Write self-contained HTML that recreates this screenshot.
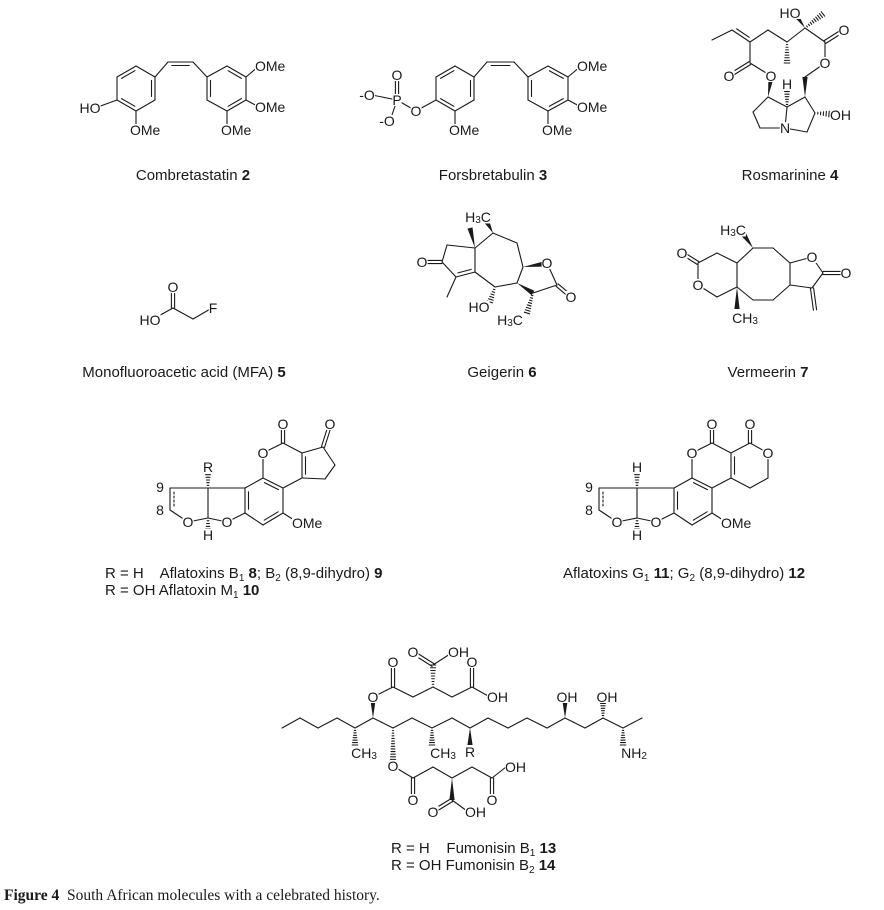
<!DOCTYPE html>
<html><head><meta charset="utf-8">
<style>
html,body{margin:0;padding:0;background:#fff;}
svg{display:block;}
text{font-family:"Liberation Sans",sans-serif;fill:#1a1a1a;white-space:pre;}
.a{font-size:14px;text-anchor:middle;dominant-baseline:central;}
.s{font-size:14px;text-anchor:start;dominant-baseline:central;}
.c{font-size:15px;}
.cap{font-family:"Liberation Serif",serif;font-size:15.5px;}
</style></head><body>
<svg id="sv" width="884" height="910" viewBox="0 0 884 910" xmlns="http://www.w3.org/2000/svg" xml:space="preserve">
<g id="bonds" stroke="#1a1a1a" stroke-width="1.1" fill="none" stroke-linecap="round"></g>
<g id="wedges" fill="#1a1a1a"></g>
<g id="masks" fill="#fff"></g>
<g id="labels">
<text class="a" x="90" y="108">HO</text>
<text class="s" x="221" y="130">OMe</text>
<text class="s" x="130" y="130">OMe</text>
<text class="s" x="255" y="66">OMe</text>
<text class="s" x="255" y="107">OMe</text>
<text class="a" x="416" y="111">O</text>
<text class="a" x="397" y="100">P</text>
<text class="a" x="397" y="75">O</text>
<text class="a" x="367" y="95">-O</text>
<text class="a" x="387" y="121">-O</text>
<text class="s" x="449" y="130">OMe</text>
<text class="s" x="542" y="130">OMe</text>
<text class="s" x="577" y="66">OMe</text>
<text class="s" x="577" y="107">OMe</text>
<text class="a" x="790" y="13">HO</text>
<text class="a" x="844" y="30">O</text>
<text class="a" x="825" y="63">O</text>
<text class="a" x="729" y="76">O</text>
<text class="a" x="771" y="76">O</text>
<text class="a" x="787" y="84">H</text>
<text class="a" x="785" y="128">N</text>
<text class="s" x="830" y="115">OH</text>
<text class="a" x="173" y="287">O</text>
<text class="a" x="150" y="320">HO</text>
<text class="a" x="213" y="308">F</text>
<text class="a" x="478" y="217">H<tspan font-size="10" dy="3">3</tspan><tspan dy="-3">C</tspan></text>
<text class="a" x="422" y="262">O</text>
<text class="a" x="547" y="263">O</text>
<text class="a" x="571" y="297">O</text>
<text class="a" x="479" y="307">HO</text>
<text class="a" x="510" y="320">H<tspan font-size="10" dy="3">3</tspan><tspan dy="-3">C</tspan></text>
<text class="a" x="733" y="230">H<tspan font-size="10" dy="3">3</tspan><tspan dy="-3">C</tspan></text>
<text class="a" x="682" y="253">O</text>
<text class="a" x="698" y="285">O</text>
<text class="a" x="812" y="257">O</text>
<text class="a" x="846" y="273">O</text>
<text class="a" x="745" y="318">CH<tspan font-size="10" dy="3">3</tspan></text>
<text class="a" x="283" y="424">O</text>
<text class="a" x="330" y="424">O</text>
<text class="a" x="263" y="453">O</text>
<text class="a" x="208" y="467">R</text>
<text class="a" x="160" y="487">9</text>
<text class="a" x="160" y="510">8</text>
<text class="a" x="188" y="522">O</text>
<text class="a" x="227" y="522">O</text>
<text class="a" x="208" y="535">H</text>
<text class="s" x="292" y="523">OMe</text>
<text class="a" x="712" y="424">O</text>
<text class="a" x="750" y="424">O</text>
<text class="a" x="692" y="453">O</text>
<text class="a" x="768" y="453">O</text>
<text class="a" x="637" y="467">H</text>
<text class="a" x="589" y="487">9</text>
<text class="a" x="589" y="510">8</text>
<text class="a" x="617" y="522">O</text>
<text class="a" x="656" y="522">O</text>
<text class="a" x="637" y="535">H</text>
<text class="s" x="721" y="523">OMe</text>
<text class="a" x="373" y="697">O</text>
<text class="a" x="393" y="662">O</text>
<text class="a" x="413" y="652">O</text>
<text class="s" x="448" y="652">OH</text>
<text class="a" x="472" y="662">O</text>
<text class="s" x="487" y="697">OH</text>
<text class="a" x="393" y="766">O</text>
<text class="a" x="413" y="800">O</text>
<text class="a" x="433" y="812">O</text>
<text class="s" x="465" y="812">OH</text>
<text class="a" x="492" y="800">O</text>
<text class="s" x="505" y="767">OH</text>
<text class="a" x="364" y="753">CH<tspan font-size="10" dy="3">3</tspan></text>
<text class="a" x="443" y="753">CH<tspan font-size="10" dy="3">3</tspan></text>
<text class="a" x="470" y="752">R</text>
<text class="a" x="567" y="697">OH</text>
<text class="a" x="607" y="697">OH</text>
<text class="a" x="634" y="753">NH<tspan font-size="10" dy="3">2</tspan></text>
</g>
<text class="c" x="193" y="180" text-anchor="middle">Combretastatin <tspan font-weight="bold">2</tspan></text>
<text class="c" x="493" y="180" text-anchor="middle">Forsbretabulin <tspan font-weight="bold">3</tspan></text>
<text class="c" x="790" y="180" text-anchor="middle">Rosmarinine <tspan font-weight="bold">4</tspan></text>
<text class="c" x="184" y="377" text-anchor="middle">Monofluoroacetic acid (MFA) <tspan font-weight="bold">5</tspan></text>
<text class="c" x="502" y="377" text-anchor="middle">Geigerin <tspan font-weight="bold">6</tspan></text>
<text class="c" x="768" y="377" text-anchor="middle">Vermeerin <tspan font-weight="bold">7</tspan></text>
<text class="c" x="105" y="578">R = H    Aflatoxins B<tspan font-size="10" dy="3">1</tspan><tspan dy="-3"> </tspan><tspan font-weight="bold">8</tspan>; B<tspan font-size="10" dy="3">2</tspan><tspan dy="-3"> (8,9-dihydro) </tspan><tspan font-weight="bold">9</tspan></text>
<text class="c" x="105" y="595">R = OH Aflatoxin M<tspan font-size="10" dy="3">1</tspan><tspan dy="-3"> </tspan><tspan font-weight="bold">10</tspan></text>
<text class="c" x="563" y="578">Aflatoxins G<tspan font-size="10" dy="3">1</tspan><tspan dy="-3"> </tspan><tspan font-weight="bold">11</tspan>; G<tspan font-size="10" dy="3">2</tspan><tspan dy="-3"> (8,9-dihydro) </tspan><tspan font-weight="bold">12</tspan></text>
<text class="c" x="391" y="853">R = H    Fumonisin B<tspan font-size="10" dy="3">1</tspan><tspan dy="-3"> </tspan><tspan font-weight="bold">13</tspan></text>
<text class="c" x="391" y="870">R = OH Fumonisin B<tspan font-size="10" dy="3">2</tspan><tspan dy="-3"> </tspan><tspan font-weight="bold">14</tspan></text>
<text class="cap" x="4" y="900"><tspan font-weight="bold">Figure 4</tspan>  South African molecules with a celebrated history.</text>
</svg>
<script>
(function(){
var NS="http://www.w3.org/2000/svg";
var bg=document.getElementById("bonds"), wg=document.getElementById("wedges");
function L(x1,y1,x2,y2,dash){var e=document.createElementNS(NS,"line");e.setAttribute("x1",x1);e.setAttribute("y1",y1);e.setAttribute("x2",x2);e.setAttribute("y2",y2);if(dash)e.setAttribute("stroke-dasharray","2,2");bg.appendChild(e);}
function S(a){for(var i=0;i<a.length;i++)L.apply(null,a[i]);}
function D2(x1,y1,x2,y2){var dx=x2-x1,dy=y2-y1,l=Math.hypot(dx,dy),nx=-dy/l*1.6,ny=dx/l*1.6;L(x1+nx,y1+ny,x2+nx,y2+ny);L(x1-nx,y1-ny,x2-nx,y2-ny);}
function Di(x1,y1,x2,y2,cx,cy,dash){L(x1,y1,x2,y2);var dx=x2-x1,dy=y2-y1,l=Math.hypot(dx,dy),nx=-dy/l,ny=dx/l;var mx=(x1+x2)/2,my=(y1+y2)/2;if((cx-mx)*nx+(cy-my)*ny<0){nx=-nx;ny=-ny;}var o=3.5,s=0.15;L(x1+dx*s+nx*o,y1+dy*s+ny*o,x2-dx*s+nx*o,y2-dy*s+ny*o,dash);}
function ring(p,inner){var cx=0,cy=0;p.forEach(function(q){cx+=q[0];cy+=q[1];});cx/=p.length;cy/=p.length;for(var i=0;i<p.length;i++){var a=p[i],b=p[(i+1)%p.length];if(inner.indexOf(i)>=0)Di(a[0],a[1],b[0],b[1],cx,cy);else L(a[0],a[1],b[0],b[1]);}}
function W(x1,y1,x2,y2){var dx=x2-x1,dy=y2-y1,l=Math.hypot(dx,dy),nx=-dy/l*2.6,ny=dx/l*2.6;var e=document.createElementNS(NS,"polygon");e.setAttribute("points",x1+","+y1+" "+(x2+nx)+","+(y2+ny)+" "+(x2-nx)+","+(y2-ny));wg.appendChild(e);}
function H(x1,y1,x2,y2){var dx=x2-x1,dy=y2-y1,l=Math.hypot(dx,dy),nx=-dy/l,ny=dx/l;var n=Math.max(4,Math.round(l/2.6));for(var i=1;i<=n;i++){var t=i/n,w=0.4+2.4*t;L(x1+dx*t+nx*w,y1+dy*t+ny*w,x1+dx*t-nx*w,y1+dy*t-ny*w);}}
ring([[136,66],[155,77],[155,100],[136,111],[117,100],[117,77]],[5,1,3]);
S([[117,100,95,108],[136,111,136,124],[155,77,168,62],[193,62,207,77],[246,77,259,66],[246,100,259,107],[227,111,227,124]]);
Di(168,62,193,62,180,75);
ring([[227,66],[246,77],[246,100],[227,111],[207,100],[207,77]],[0,2,4]);
ring([[455,66],[474,77],[474,100],[455,111],[436,100],[436,77]],[5,1,3]);
S([[474,77,487,62],[514,62,528,77],[568,77,581,66],[568,100,581,107],[548,111,548,124],[455,111,455,124],[436,100,416,111],[416,111,397,100],[397,100,372,95],[397,100,390,121]]);
Di(487,62,514,62,500,75);
ring([[548,66],[568,77],[568,100],[548,111],[528,100],[528,77]],[0,2,4]);
D2(397,100,397,76);
D2(173,308,173,287);S([[173,308,153,319],[173,308,193,319],[193,319,212,308]]);
W(805,28,796,15);S([[805,28,825,42],[825,42,825,63],[825,63,805,77],[805,28,787,42],[787,42,768,30],[768,30,750,42],[732,30,712,40],[750,42,750,63],[750,63,771,76],[768,97,753,112],[753,112,760,128],[760,128,785,128],[785,128,787,107],[787,107,768,97],[787,107,805,97],[805,97,815,113],[815,113,807,132],[807,132,785,128]]);
D2(825,42,844,30);W(805,97,805,77);H(787,42,787,63);Di(750,42,732,30,745,20);D2(750,63,729,76);W(768,97,771,78);H(787,107,787,89);H(815,113,829,114);H(805,28,823,14);
S([[475,248,493,233],[493,233,517,243],[517,243,523,267],[523,267,517,283],[517,283,495,287],[495,287,475,272],[475,248,475,272],[475,248,447,245],[447,245,442,262],[442,262,456,277],[456,277,447,297],[547,263,557,285],[557,285,533,293]]);
Di(475,272,456,277,455,262);D2(442,262,422,262);W(493,233,487,222);W(475,248,470,228);W(523,267,544,264);D2(557,285,570,296);W(517,283,533,293);H(533,293,527,313);H(495,287,490,302);
ring([[753,248],[773,248],[790,263],[790,285],[773,300],[753,300],[737,287],[737,263]],[]);
S([[737,263,717,253],[717,253,698,263],[698,263,698,285],[698,285,717,297],[717,297,737,287],[790,263,812,257],[812,257,823,273],[823,273,812,288],[812,288,790,285]]);
D2(698,263,682,253);D2(823,273,846,273);D2(812,288,815,310);W(753,248,744,235);W(737,287,737,309);
function afla(dx,G){
 var O1=[263+dx,453],Cc=[283+dx,443],Ca=[302+dx,453],Cb=[302+dx,478],Cd=[283+dx,488],Ce=[263+dx,478];
 S([[O1[0],O1[1],Cc[0],Cc[1]],[Cc[0],Cc[1],Ca[0],Ca[1]],[Cb[0],Cb[1],Cd[0],Cd[1]],[Ce[0],Ce[1],O1[0],O1[1]]]);
 Di(Ca[0],Ca[1],Cb[0],Cb[1],Ca[0]+15,465);D2(Cc[0],Cc[1],Cc[0],425);
 ring([Ce,Cd,[283+dx,513],[263+dx,525],[245+dx,513],[245+dx,488]],[0,2,4]);
 S([[283+dx,513,294+dx,520]]);
 S([[245+dx,488,208+dx,488],[208+dx,488,208+dx,518],[208+dx,518,227+dx,522],[227+dx,522,245+dx,513],[208+dx,488,170+dx,488],[170+dx,488,170+dx,510],[170+dx,510,188+dx,522],[188+dx,522,208+dx,518]]);
 L(174+dx,492,174+dx,506,true);
 H(208+dx,488,208+dx,472);H(208+dx,518,208+dx,532);
 if(!G){S([[302,453,323,447],[323,447,335,465],[335,465,325,479],[325,479,302,478]]);D2(323,447,330,425);}
 else{S([[731,453,750,443],[750,443,768,453],[768,453,768,478],[768,478,750,488],[750,488,731,478]]);D2(750,443,750,425);}
}
afla(0,false);afla(429,true);
var ch=[[282,728],[300,718],[318,728],[337,718],[355,728],[373,718],[393,728],[412,718],[432,728],[452,718],[470,728],[488,718],[508,728],[527,718],[547,728],[565,718],[585,728],[603,718],[623,728],[642,718]];
for(var i=0;i<ch.length-1;i++)L(ch[i][0],ch[i][1],ch[i+1][0],ch[i+1][1]);
H(355,728,355,745);W(373,718,373,700);H(393,728,393,762);H(432,728,432,745);W(470,728,470,745);W(565,718,565,701);H(603,718,603,701);H(623,728,623,745);
S([[373,697,393,687],[393,687,413,697],[413,697,433,687],[433,665,450,654],[433,687,452,697],[452,697,472,687],[472,687,490,697]]);
D2(393,687,393,663);H(433,687,433,665);D2(433,665,414,653);D2(472,687,472,663);
S([[393,766,413,778],[413,778,433,767],[433,767,452,778],[452,800,467,811],[452,778,472,767],[472,767,492,778],[492,778,506,767]]);
D2(413,778,413,800);W(452,778,452,800);D2(452,800,434,811);D2(492,778,492,800);
var mg=document.getElementById("masks");
var ts=document.getElementById("labels").getElementsByTagName("text");
for(var k=0;k<ts.length;k++){var b=ts[k].getBBox();var r=document.createElementNS(NS,"rect");r.setAttribute("x",b.x);r.setAttribute("y",b.y+2);r.setAttribute("width",b.width);r.setAttribute("height",Math.max(0,b.height-4));mg.appendChild(r);}
})();
</script>
</body></html>
